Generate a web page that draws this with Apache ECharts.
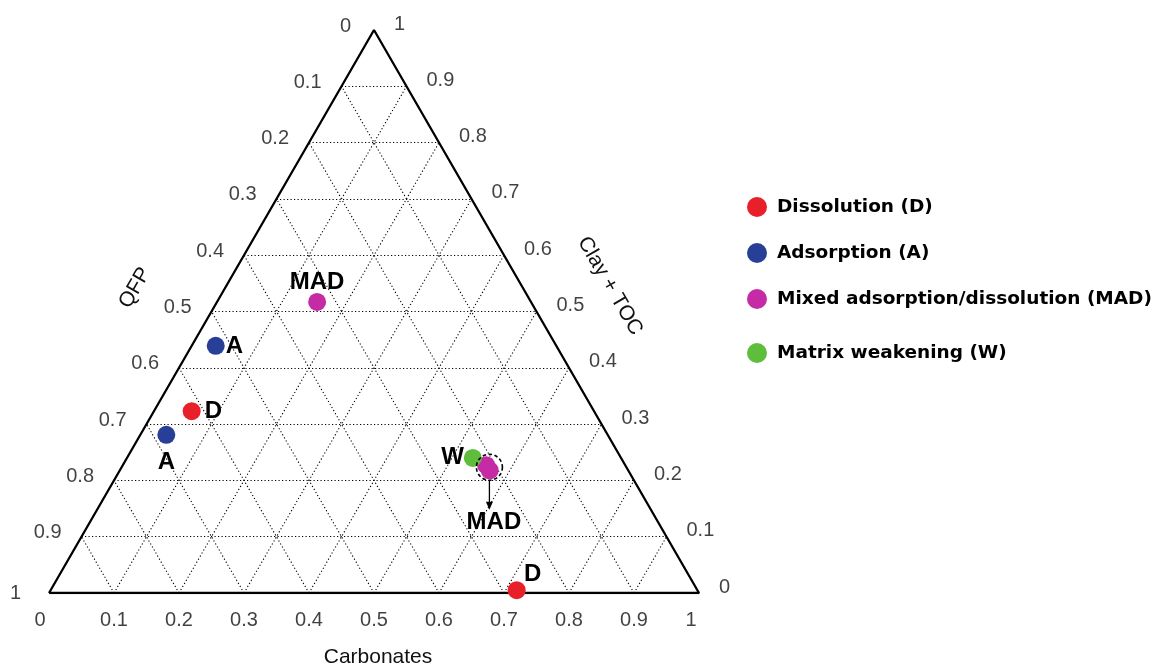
<!DOCTYPE html>
<html><head><meta charset="utf-8">
<script src="https://cdn.jsdelivr.net/npm/echarts@6/dist/echarts.min.js"></script>
<style>html,body{margin:0;padding:0;background:#fff}#c{width:1163px;height:666px}</style>
</head><body><div id="c"></div>
<script>
// ---- data ----
const tickValues = [0, 0.1, 0.2, 0.3, 0.4, 0.5, 0.6, 0.7, 0.8, 0.9, 1];
const tickLabels = ['0', '0.1', '0.2', '0.3', '0.4', '0.5', '0.6', '0.7', '0.8', '0.9', '1'];
const groupNames = ['Dissolution (D)', 'Adsorption (A)', 'Mixed adsorption/dissolution (MAD)', 'Matrix weakening (W)'];
const groupCodes = ['D', 'A', 'MAD', 'W'];
const pointGroup = ['D', 'A', 'A', 'MAD', 'W', 'MAD', 'MAD', 'D'];
const pointLabel = ['D', 'A', 'A', 'MAD', 'W', '', '', 'D'];
const carbonates = [0.058, 0.037, 0.040, 0.154, 0.532, 0.559, 0.569, 0.717];
const qfp        = [0.619, 0.524, 0.679, 0.329, 0.228, 0.214, 0.213, 0.278];
const clayToc    = [0.323, 0.439, 0.281, 0.517, 0.240, 0.227, 0.218, 0.005];
const clusterIdx = [5, 6];   // overlapping MAD pair, circled
const clusterLabel = 'MAD';

// ---- styles ----
const colors = { D: '#e8202a', A: '#283f98', MAD: '#c42ba5', W: '#5fbd3c' };
const labelPos = ['right', 'right', 'bottom', 'top', 'left', 'inside', 'inside', 'top'];
const labelOff = [[1, 0], [-2, 1], [0, 4], [0, 4], [3, -1], [0, 0], [0, 0], [16, 8]];
const leftTickOff = [[-3, 0], [0, 0], [0, 0], [0, 0], [0, 0], [0, 0], [0, 0], [0, 0], [0, 0], [0, 0], [-8, 4]];
const bottomTickOff = [[-9, 0], [0, 0], [0, 0], [0, 0], [0, 0], [0, 0], [0, 0], [0, 0], [0, 0], [0, 0], [-8, 0]];
const FONT = '"Liberation Sans", Arial, Helvetica, sans-serif';
const LEGFONT = '"DejaVu Sans", "Liberation Sans", Arial, sans-serif';
const H = Math.sqrt(3) / 2;

function toXY(c, k) { return [c + k / 2, k * H]; }

// grid lines
const gridLines = [];
tickValues.forEach(t => {
  if (t <= 0 || t >= 1) return;
  gridLines.push({ coords: [toXY(0, t), toXY(1 - t, t)] });       // constant clay
  gridLines.push({ coords: [toXY(t, 0), toXY(t, 1 - t)] });       // constant carbonates
  gridLines.push({ coords: [toXY(1 - t, 0), toXY(0, 1 - t)] });   // constant qfp
});

const triangle = [toXY(0, 0), toXY(1, 0), toXY(0, 1), toXY(0, 0)];

const tickSeries = [
  { data: tickValues.map((t, i) => ({ value: toXY(0, 1 - t), name: tickLabels[i], label: { offset: [leftTickOff[i][0], -4 + leftTickOff[i][1]] } })),
    label: { position: 'left', distance: 20 } },
  { data: tickValues.map((t, i) => ({ value: toXY(1 - t, t), name: tickLabels[i] })),
    label: { position: 'right', distance: 20, offset: [0, -6] } },
  { data: tickValues.map((t, i) => ({ value: toXY(t, 0), name: tickLabels[i], label: { offset: bottomTickOff[i] } })),
    label: { position: 'bottom', distance: 17 } }
].map(s => ({
  type: 'scatter', symbolSize: 0, silent: true, z: 5,
  data: s.data,
  label: Object.assign({ show: true, formatter: '{b}', fontFamily: FONT, fontSize: 20, color: '#111' }, s.label)
}));

const pointSeries = groupCodes.map((g, gi) => ({
  type: 'scatter', name: groupNames[gi], symbolSize: 18, z: 10,
  itemStyle: { color: colors[g], opacity: 1 },
  data: pointGroup.map((pg, i) => pg === g ? {
    value: toXY(carbonates[i], clayToc[i]),
    label: {
      show: !!pointLabel[i], formatter: pointLabel[i], position: labelPos[i], offset: labelOff[i],
      fontFamily: FONT, fontWeight: 'bold', fontSize: 24, color: '#000', distance: 3
    }
  } : null).filter(d => d)
}));

const cc = clusterIdx.reduce((a, i) => [a[0] + carbonates[i] / clusterIdx.length, a[1] + clayToc[i] / clusterIdx.length], [0, 0]);

const chart = echarts.init(document.getElementById('c'), null, { renderer: 'canvas' });
chart.setOption({
  animation: false,
  backgroundColor: '#fff',
  grid: { left: 49, top: 30, width: 650, height: 563 },
  xAxis: { type: 'value', min: 0, max: 1, show: false },
  yAxis: { type: 'value', min: 0, max: H, show: false },
  legend: groupNames.map((n, i) => ({
    data: [n], left: 747, top: [197, 243, 289, 343][i], padding: 0,
    icon: 'circle', itemWidth: 20, itemHeight: 20, itemGap: 0,
    textStyle: { fontFamily: LEGFONT, fontWeight: 'bold', fontSize: 18.5, color: '#000', padding: [0, 0, 0, 5] },
    selectedMode: false
  })),
  graphic: [
    { type: 'text', x: 135, y: 288, rotation: Math.PI / 3,
      style: { text: 'QFP', font: '21px ' + FONT, fill: '#111', textAlign: 'center', textVerticalAlign: 'middle' } },
    { type: 'text', x: 610, y: 286, rotation: -Math.PI / 3,
      style: { text: 'Clay + TOC', font: '21px ' + FONT, fill: '#111', textAlign: 'center', textVerticalAlign: 'middle' } },
    { type: 'text', x: 378, y: 657,
      style: { text: 'Carbonates', font: '21px ' + FONT, fill: '#111', textAlign: 'center', textVerticalAlign: 'middle' } }
  ],
  series: [
    {
      type: 'lines', coordinateSystem: 'cartesian2d', silent: true, z: 1,
      lineStyle: { color: '#000', width: 1.1, type: [1.2, 2.3], opacity: 1 },
      data: gridLines
    },
    {
      type: 'line', data: triangle, symbol: 'none', silent: true, z: 3,
      lineStyle: { color: '#000', width: 2.3 }
    },
    ...tickSeries,
    ...pointSeries,
    {
      type: 'custom', z: 12, silent: true,
      data: [toXY(cc[0], cc[1])],
      renderItem: (params, api) => {
        const p = api.coord([api.value(0), api.value(1)]);
        return {
          type: 'group', children: [
            { type: 'circle', shape: { cx: p[0] + 1.5, cy: p[1] - 0.5, r: 13 },
              style: { fill: 'none', stroke: '#000', lineWidth: 1.6, lineDash: [3.5, 2.5] } },
            { type: 'line', shape: { x1: p[0] + 1.5, y1: p[1] + 12.5, x2: p[0] + 1.5, y2: p[1] + 36 },
              style: { stroke: '#000', lineWidth: 1.3 } },
            { type: 'polygon', shape: { points: [[p[0] - 2, p[1] + 34], [p[0] + 5, p[1] + 34], [p[0] + 1.5, p[1] + 42]] },
              style: { fill: '#000' } },
            { type: 'text', x: p[0] + 6, y: p[1] + 55,
              style: { text: clusterLabel, font: 'bold 24px ' + FONT, fill: '#000', textAlign: 'center', textVerticalAlign: 'middle' } }
          ]
        };
      }
    }
  ]
});
</script></body></html>
